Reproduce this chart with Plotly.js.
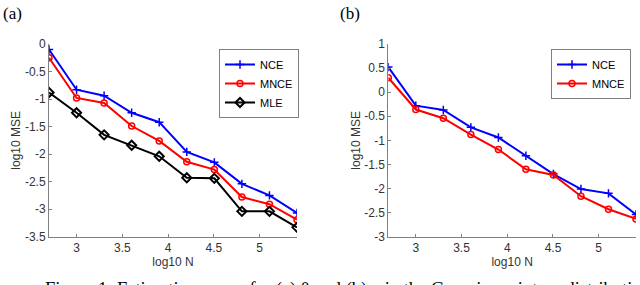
<!DOCTYPE html>
<html>
<head>
<meta charset="utf-8">
<script src="https://cdn.plot.ly/plotly-3.0.1.min.js"></script>
<style>html,body{margin:0;padding:0;background:#fff;}#chart{width:640px;height:285px;}</style>
</head>
<body>
<div id="chart"></div>
<script>
// log10 N sample sizes
const logN = [2.699, 3.000, 3.301, 3.602, 3.903, 4.204, 4.505, 4.806, 5.107, 5.408];

// Panel (a)
const nceA  = [-0.10, -0.83, -0.94, -1.25, -1.42, -1.96, -2.15, -2.54, -2.75, -3.07];
const mnceA = [-0.25, -0.98, -1.07, -1.49, -1.76, -2.14, -2.28, -2.78, -2.91, -3.19];
const mleA  = [-0.88, -1.25, -1.65, -1.84, -2.04, -2.43, -2.44, -3.04, -3.04, -3.33];

// Panel (b)
const nceB  = [0.52, -0.28, -0.37, -0.73, -0.94, -1.32, -1.70, -2.01, -2.10, -2.54];
const mnceB = [0.30, -0.36, -0.54, -0.88, -1.19, -1.60, -1.72, -2.16, -2.43, -2.63];

// Ticks
const xTickVals = [3, 3.5, 4, 4.5, 5];
const xTickText = ["3", "3.5", "4", "4.5", "5"];
const yTickValsA = [0, -0.5, -1, -1.5, -2, -2.5, -3, -3.5];
const yTickTextA = ["0", "-0.5", "-1", "-1.5", "-2", "-2.5", "-3", "-3.5"];
const yTickValsB = [1, 0.5, 0, -0.5, -1, -1.5, -2, -2.5, -3];
const yTickTextB = ["1", "0.5", "0", "-0.5", "-1", "-1.5", "-2", "-2.5", "-3"];

const W = 640, H = 285;
const px = v => v / W;
const py = v => 1 - v / H;

const nceLine = {color: '#0000ff', width: 2};
const mnceLine = {color: '#ff0000', width: 2};
const mleLine = {color: '#000000', width: 2};
const nceMarker = {symbol: 'cross-thin', size: 6, color: '#0000ff', line: {color: '#0000ff', width: 1.5}};
const mnceMarker = {symbol: 'circle-open', size: 6, color: '#ff0000', line: {color: '#ff0000', width: 1.5}};
const mleMarker = {symbol: 'diamond-open', size: 7, color: '#000000', line: {color: '#000000', width: 2}};

const traces = [
  {x: logN, y: nceA, name: 'NCE', mode: 'lines+markers', xaxis: 'x', yaxis: 'y', legend: 'legend', line: nceLine, marker: nceMarker},
  {x: logN, y: mnceA, name: 'MNCE', mode: 'lines+markers', xaxis: 'x', yaxis: 'y', legend: 'legend', line: mnceLine, marker: mnceMarker},
  {x: logN, y: mleA, name: 'MLE', mode: 'lines+markers', xaxis: 'x', yaxis: 'y', legend: 'legend', line: mleLine, marker: mleMarker},
  {x: logN, y: nceB, name: 'NCE', mode: 'lines+markers', xaxis: 'x2', yaxis: 'y2', legend: 'legend2', line: nceLine, marker: nceMarker},
  {x: logN, y: mnceB, name: 'MNCE', mode: 'lines+markers', xaxis: 'x2', yaxis: 'y2', legend: 'legend2', line: mnceLine, marker: mnceMarker}
];

const tickFont = {family: 'Liberation Sans, Arial, sans-serif', size: 12, color: '#333333'};
const titleFont = {family: 'Liberation Sans, Arial, sans-serif', size: 12, color: '#333333'};
const legendFont = {family: 'Liberation Sans, Arial, sans-serif', size: 11, color: '#000000'};
const axisCommon = {
  showgrid: false, zeroline: false, showline: true, linecolor: '#808080', linewidth: 1,
  ticks: 'inside', ticklen: 3, tickcolor: '#808080', tickfont: tickFont, mirror: false
};

const layout = {
  width: W, height: H,
  margin: {l: 0, r: 0, t: 0, b: 0},
  paper_bgcolor: '#ffffff', plot_bgcolor: '#ffffff',
  showlegend: true,
  xaxis: Object.assign({}, axisCommon, {domain: [px(49), px(297)], range: [2.699, 5.408],
    tickvals: xTickVals, ticktext: xTickText, anchor: 'y',
    title: {text: 'log10 N', font: titleFont, standoff: 3}}),
  yaxis: Object.assign({}, axisCommon, {domain: [py(236.7), py(44)], range: [-3.5, 0],
    tickvals: yTickValsA, ticktext: yTickTextA, anchor: 'x',
    title: {text: 'log10 MSE', font: titleFont, standoff: 1}}),
  xaxis2: Object.assign({}, axisCommon, {domain: [px(388.3), px(636)], range: [2.699, 5.408],
    tickvals: xTickVals, ticktext: xTickText, anchor: 'y2',
    title: {text: 'log10 N', font: titleFont, standoff: 3}}),
  yaxis2: Object.assign({}, axisCommon, {domain: [py(236.7), py(44)], range: [-3, 1],
    tickvals: yTickValsB, ticktext: yTickTextB, anchor: 'x2',
    title: {text: 'log10 MSE', font: titleFont, standoff: 1}}),
  legend: {x: px(299), y: py(49), xanchor: 'right', yanchor: 'top',
    bgcolor: '#ffffff', bordercolor: '#808080', borderwidth: 1,
    font: legendFont, tracegroupgap: 0, itemwidth: 30},
  legend2: {x: px(631), y: py(49), xanchor: 'right', yanchor: 'top',
    bgcolor: '#ffffff', bordercolor: '#808080', borderwidth: 1,
    font: legendFont, tracegroupgap: 0, itemwidth: 30},
  annotations: [
    {text: '(a)', xref: 'paper', yref: 'paper', x: px(1), y: py(2), xanchor: 'left', yanchor: 'top',
     showarrow: false, font: {family: 'Liberation Serif, Times New Roman, serif', size: 17, color: '#000'}},
    {text: '(b)', xref: 'paper', yref: 'paper', x: px(338), y: py(2), xanchor: 'left', yanchor: 'top',
     showarrow: false, font: {family: 'Liberation Serif, Times New Roman, serif', size: 17, color: '#000'}},
    {text: 'Figure 1: Estimation errors for (a) θ and (b) c in the Gaussian mixture distribution', xref: 'paper', yref: 'paper',
     x: px(43), y: py(277), xanchor: 'left', yanchor: 'top', showarrow: false,
     font: {family: 'Liberation Serif, Times New Roman, serif', size: 18.5, color: '#000'}}
  ]
};

Plotly.newPlot('chart', traces, layout, {staticPlot: true, displayModeBar: false});
</script>
</body>
</html>
